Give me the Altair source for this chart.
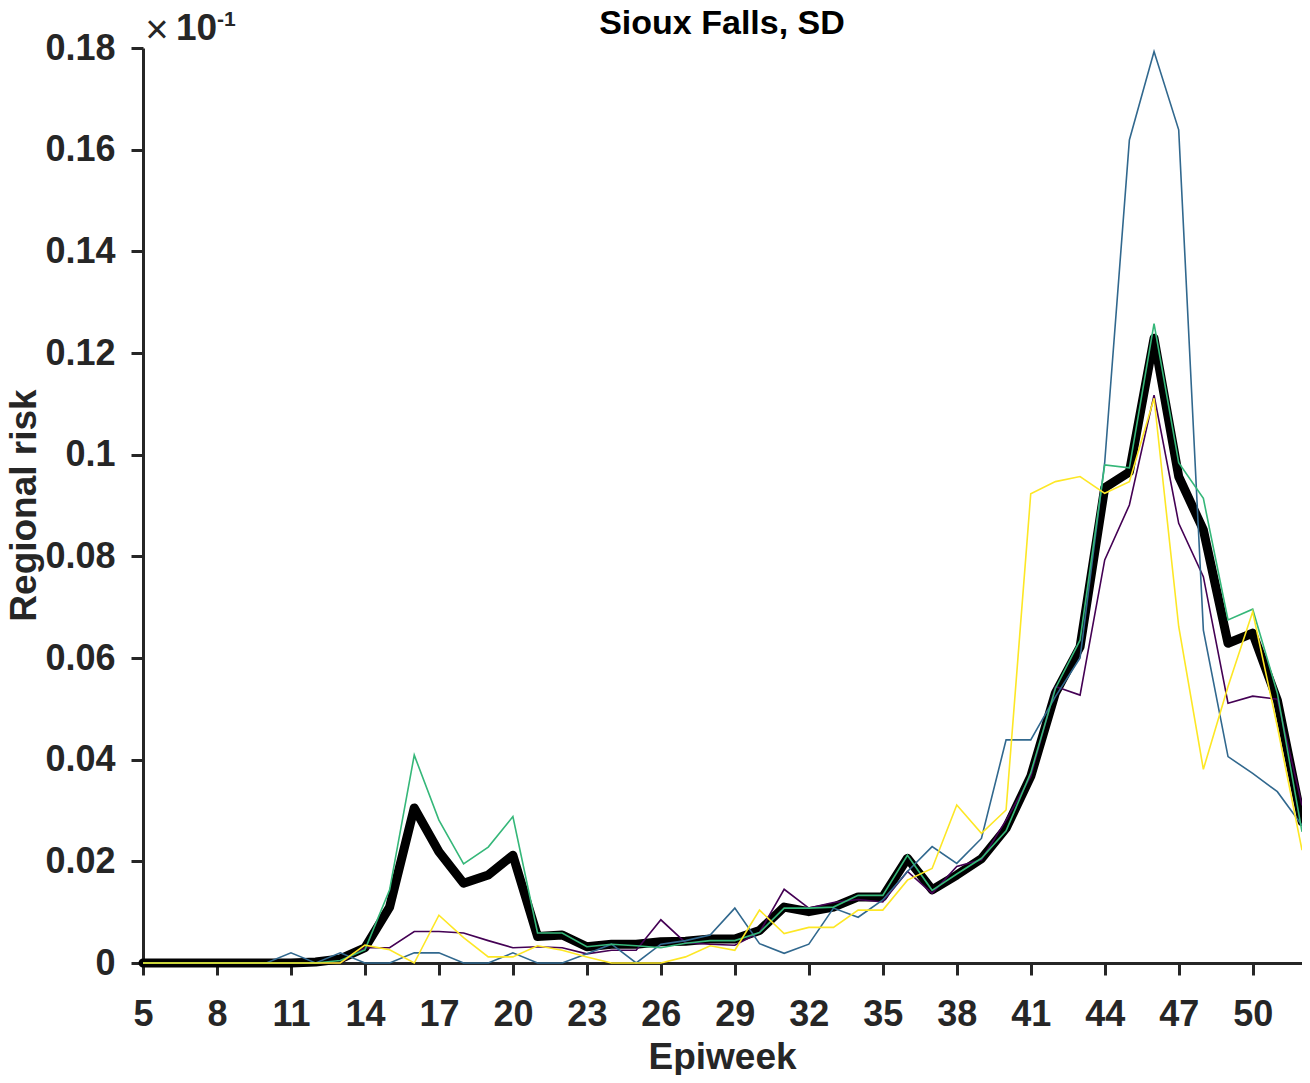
import altair as alt
import pandas as pd

weeks = list(range(5, 53))

mean_risk = [0, 0, 0, 0, 0, 0, 0, 0.0002, 0.0008, 0.003, 0.011, 0.0305, 0.0219, 0.0157, 0.0173, 0.0212,
             0.0052, 0.0055, 0.0032, 0.0037, 0.0037, 0.0042, 0.0043, 0.0047, 0.0047, 0.0064, 0.011, 0.0101,
             0.011, 0.013, 0.013, 0.0206, 0.0144, 0.0173, 0.0205, 0.0265, 0.0367, 0.0531, 0.0622, 0.0935,
             0.0966, 0.1229, 0.0957, 0.0852, 0.0629, 0.0649, 0.0517, 0.0278]

purple = [0, 0, 0, 0, 0, 0, 0, 0, 0, 0.003, 0.003, 0.0062, 0.0062, 0.0059, 0.0044, 0.003,
          0.0032, 0.003, 0.0018, 0.0025, 0.0025, 0.0085, 0.004, 0.0037, 0.0035, 0.006, 0.0145, 0.0108,
          0.0119, 0.0125, 0.012, 0.018, 0.0137, 0.019, 0.0203, 0.0281, 0.0367, 0.0544, 0.0527, 0.0793,
          0.0901, 0.1117, 0.0865, 0.076, 0.0511, 0.0525, 0.0519, 0.031]

blue = [0, 0, 0, 0, 0, 0, 0.002, 0, 0.002, 0, 0, 0.002, 0.002, 0, 0, 0.002,
        0, 0, 0.0018, 0.0037, 0, 0.0037, 0.0044, 0.0055, 0.0108, 0.0038, 0.0019, 0.0037,
        0.0108, 0.009, 0.0124, 0.018, 0.0229, 0.0196, 0.0245, 0.0439, 0.0439, 0.0524, 0.06, 0.0985,
        0.1619, 0.1793, 0.1639, 0.0655, 0.0406, 0.0373, 0.0337, 0.0271]

green = [0, 0, 0, 0, 0, 0, 0, 0, 0.0005, 0.0026, 0.0144, 0.0409, 0.0281, 0.0195, 0.0228, 0.0288,
         0.0059, 0.0059, 0.0032, 0.0037, 0.0034, 0.003, 0.0039, 0.0044, 0.0044, 0.006, 0.0108, 0.0108,
         0.011, 0.0133, 0.0133, 0.0212, 0.0143, 0.0175, 0.0206, 0.026, 0.0374, 0.054, 0.0635, 0.098,
         0.0974, 0.1258, 0.0984, 0.0914, 0.0675, 0.0696, 0.0531, 0.0258]

yellow = [0, 0, 0, 0, 0, 0, 0, 0, 0, 0.0035, 0.0026, 0, 0.0094, 0.005, 0.0012, 0.0012,
          0.0034, 0.0025, 0.0012, 0, 0, 0, 0.0012, 0.0034, 0.0025, 0.0104, 0.0058, 0.007,
          0.007, 0.0104, 0.0104, 0.0163, 0.0186, 0.0311, 0.0255, 0.0301, 0.0923, 0.0947, 0.0957, 0.0924,
          0.0947, 0.1111, 0.0662, 0.0381, 0.0544, 0.0691, 0.0465, 0.0222]

x_ticks = [5, 8, 11, 14, 17, 20, 23, 26, 29, 32, 35, 38, 41, 44, 47, 50]
y_ticks = [0, 0.02, 0.04, 0.06, 0.08, 0.1, 0.12, 0.14, 0.16, 0.18]

series = [("purple", purple, "#440154"), ("blue", blue, "#31688e"),
          ("green", green, "#35b779"), ("yellow", yellow, "#fde725")]

title_text = "Sioux Falls, SD"

FONT = "Liberation Sans"
TXT = "#262626"

x_enc = alt.X("week:Q", scale=alt.Scale(domain=[5, 52], nice=False, zero=False),
              axis=alt.Axis(values=x_ticks, title="Epiweek", format="d", labelFlush=False,
                            titleX=579, titleY=105, titleBaseline="alphabetic", titleAlign="center"))
y_enc = alt.Y("risk:Q", scale=alt.Scale(domain=[0, 0.18], nice=False),
              axis=alt.Axis(values=y_ticks, title="Regional risk", format="~g", labelFlush=False,
                            titleX=-119, titleY=457, titleAngle=-90,
                            titleBaseline="middle", titleAlign="center"))

mean_df = pd.DataFrame({"week": weeks, "risk": mean_risk})
layers = [alt.Chart(mean_df).mark_line(color="black", strokeWidth=9, strokeJoin="round",
                                       strokeCap="round").encode(x=x_enc, y=y_enc)]
for name, vals, col in series:
    df = pd.DataFrame({"week": weeks, "risk": vals})
    layers.append(alt.Chart(df).mark_line(color=col, strokeWidth=1.6).encode(x="week:Q", y="risk:Q"))

title_mark = alt.Chart(pd.DataFrame({"t": [title_text]})).mark_text(
    font=FONT, fontSize=34, color="black", fontWeight="bold", baseline="alphabetic", align="center"
).encode(text="t:N", x=alt.value(579), y=alt.value(-14))

times = alt.Chart(pd.DataFrame({"t": ["×"]})).mark_text(
    font=FONT, fontSize=40, color=TXT, fontWeight="normal", baseline="middle", align="center"
).encode(text="t:N", x=alt.value(14), y=alt.value(-17))
ten = alt.Chart(pd.DataFrame({"t": ["10"]})).mark_text(
    font=FONT, fontSize=37, color=TXT, fontWeight="bold", baseline="alphabetic", align="left"
).encode(text="t:N", x=alt.value(33), y=alt.value(-8))
exp = alt.Chart(pd.DataFrame({"t": ["-1"]})).mark_text(
    font=FONT, fontSize=21, color=TXT, fontWeight="bold", baseline="alphabetic", align="left"
).encode(text="t:N", x=alt.value(74), y=alt.value(-22))

chart = alt.layer(*layers, title_mark, times, ten, exp).properties(
    width=1159, height=915,
    autosize=alt.AutoSizeParams(type="none"),
    padding={"left": 135, "top": 40, "right": 0, "bottom": 112},
).configure_view(stroke=None).configure_axis(
    grid=False, domainColor=TXT, domainWidth=3, tickColor=TXT, tickWidth=3, tickSize=12,
    labelFont=FONT, labelFontSize=36, labelFontWeight="bold", labelColor=TXT,
    titleFont=FONT, titleFontSize=37, titleFontWeight="bold", titleColor=TXT,
).configure_axisX(labelPadding=22).configure_axisY(labelPadding=16)

chart.save("out.html", embed_options={"renderer": "svg", "actions": False})
